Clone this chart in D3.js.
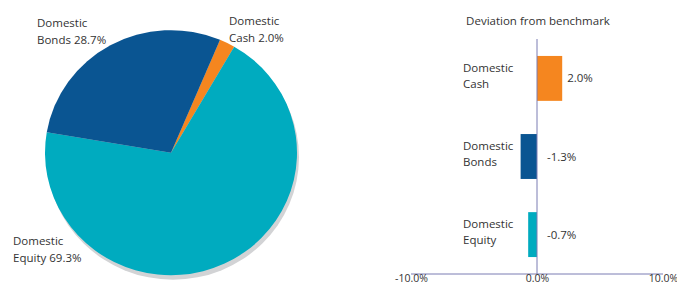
<!DOCTYPE html>
<html><head><meta charset="utf-8">
<script src="https://cdn.jsdelivr.net/npm/d3@7"></script>
<style>body{margin:0;background:#fff}svg{display:block}text{font-family:"Open Sans",sans-serif;fill:#333}</style>
</head><body><svg id="c" width="677" height="285"></svg>
<script>
const pieCategories = ["Domestic Cash", "Domestic Equity", "Domestic Bonds"];
const pieValues = [2.0, 69.3, 28.7];
const pieColors = ["#f5861f", "#00abbf", "#0a5592"];
const pieLabels = [["Domestic","Cash 2.0%"],["Domestic","Equity 69.3%"],["Domestic","Bonds 28.7%"]];

const barCategories = [["Domestic","Cash"],["Domestic","Bonds"],["Domestic","Equity"]];
const barValues = [2.0, -1.3, -0.7];
const barColors = ["#f5861f", "#0a5592", "#00abbf"];
const barLabels = ["2.0%", "-1.3%", "-0.7%"];
const xTicks = [-10, 0, 10];
const xTickLabels = ["-10.0%", "0.0%", "10.0%"];

const svg = d3.select("#c");

// Pie
const cx = 171, cy = 152.7, r = 126, sy = 122.5/126;
const start = 22.9 * Math.PI/180;
const pie = d3.pie().sort(null).startAngle(start).endAngle(start + 2*Math.PI);
const arc = d3.arc().innerRadius(0).outerRadius(r);
const arcs = pie(pieValues);
svg.append("ellipse").attr("cx", cx+2).attr("cy", cy+4.5).attr("rx", r).attr("ry", r*sy).attr("fill", "#d2d3d5");
const pg = svg.append("g").attr("transform", `translate(${cx},${cy}) scale(1,${sy})`);
pg.selectAll("path").data(arcs).enter().append("path")
  .attr("d", arc).attr("fill", (d,i)=>pieColors[i]);

const pieLabelPos = [[229,25],[13,245],[37,27]];
pieLabels.forEach((lines,i)=>{
  const t = svg.append("text").attr("x", pieLabelPos[i][0]).attr("y", pieLabelPos[i][1]).style("font-size","11.5px");
  lines.forEach((l,j)=>t.append("tspan").attr("x", pieLabelPos[i][0]).attr("dy", j? 16.5 : 0).text(l));
});

// Bars
const x = d3.scaleLinear().domain([-10,10]).range([411,663]);
const y = d3.scaleBand().domain(d3.range(barValues.length)).range([39,274]).paddingInner(0.425).paddingOuter(0.217);
const axisColor = "#7b7db3";

svg.append("text").attr("x", 538).attr("y", 25).attr("text-anchor","middle").style("font-size","11.5px").text("Deviation from benchmark");

svg.selectAll("rect.bar").data(barValues).enter().append("rect").attr("class","bar")
  .attr("x", d=>x(Math.min(0,d))).attr("width", d=>Math.abs(x(d)-x(0)))
  .attr("y", (d,i)=>y(i)).attr("height", y.bandwidth())
  .attr("fill", (d,i)=>barColors[i]);

svg.append("line").attr("x1", x(0)).attr("x2", x(0)).attr("y1", 39).attr("y2", 274).attr("stroke", axisColor).attr("stroke-width", 1);

const xAxis = d3.axisBottom(x).tickValues(xTicks).tickFormat((d,i)=>xTickLabels[i]).tickSize(0).tickPadding(1);
const ag = svg.append("g").attr("transform","translate(0,274)").call(xAxis);
ag.select(".domain").attr("stroke", axisColor).attr("d", `M${x(-10)},0H${x(10)}`);
ag.selectAll("text").style("font-size","10.5px").style("font-family","'Open Sans',sans-serif").attr("fill","#333");

barCategories.forEach((lines,i)=>{
  const yc = y(i) + y.bandwidth()/2;
  const t = svg.append("text").attr("x", 463).attr("y", yc - 6.5).style("font-size","11.5px");
  lines.forEach((l,j)=>t.append("tspan").attr("x", 463).attr("dy", j? 16 : 0).text(l));
});
barValues.forEach((v,i)=>{
  const yc = y(i) + y.bandwidth()/2;
  svg.append("text").attr("x", v>0 ? x(v)+5 : x(0)+10).attr("y", yc+4).style("font-size","11.5px").text(barLabels[i]);
});
</script></body></html>
